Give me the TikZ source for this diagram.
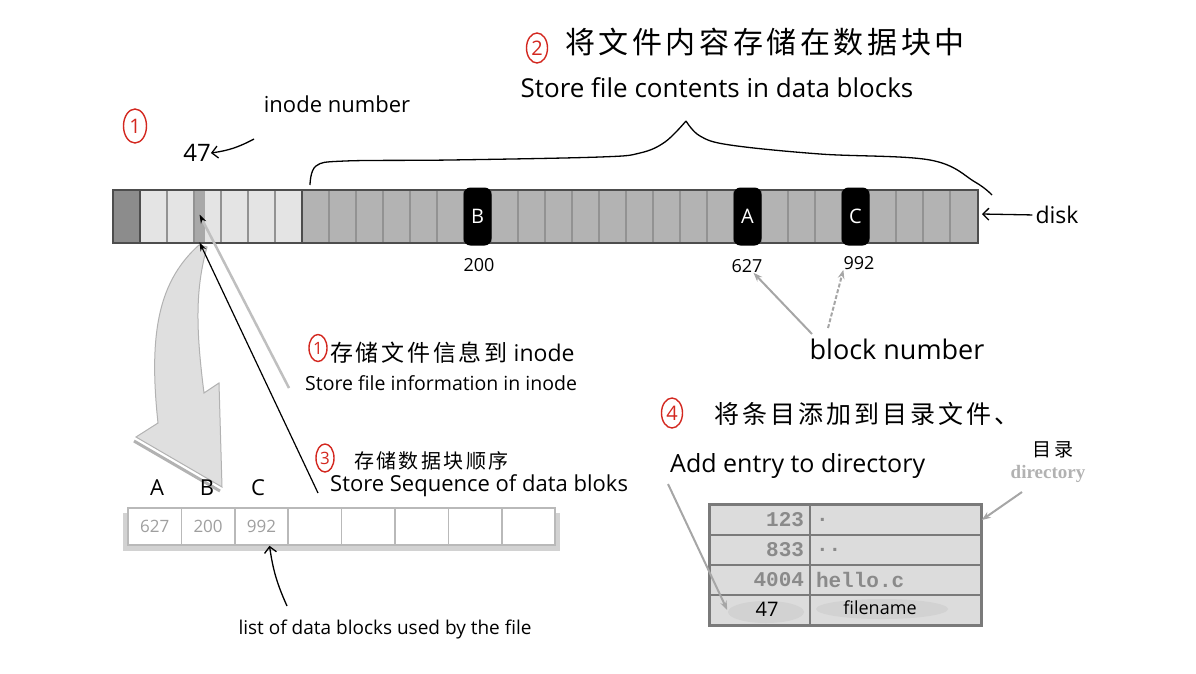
\documentclass[tikz,border=0pt]{standalone}
\usepackage{fontspec}
\setmainfont{Open Sans}
\setmonofont{Liberation Mono}
\newfontfamily\cjk[LetterSpace=12]{Noto Sans CJK SC}
\newfontfamily\dirfont{Liberation Serif}
\usetikzlibrary{shapes.geometric,arrows.meta}

\definecolor{diskedge}{HTML}{4D4D4D}
\definecolor{superblk}{HTML}{8C8C8C}
\definecolor{inodegray}{HTML}{E4E4E4}
\definecolor{datagray}{HTML}{B3B3B3}
\definecolor{divgray}{HTML}{929292}
\definecolor{stripgray}{HTML}{A8A8A8}
\definecolor{markred}{HTML}{D3271F}
\definecolor{dirfill}{HTML}{DCDCDC}
\definecolor{dirline}{HTML}{7A7A7A}
\definecolor{dirtext}{HTML}{8A8A8A}

\newcommand{\handsize}[1]{\fontsize{#1}{#1}\selectfont}

\begin{document}
\begin{tikzpicture}
  [x=1pt,y=-1pt,
   hand/.style={inner sep=0pt,font=\handsize{#1}},
   hand/.default=20,
   numcirc/.style={ellipse,draw=markred,text=markred,line width=1.4pt,
     inner sep=0pt,minimum width=21pt,minimum height=30pt,font=\handsize{20}},
   blkcell/.style={fill=black,rounded corners=7pt,minimum width=28pt,
     minimum height=58pt,text=white,font=\handsize{20}},
   listcell/.style={draw=gray!55,line width=1.5pt,fill=white,minimum width=53.4pt,
     minimum height=37pt,inner sep=0pt,text=gray!75,font=\handsize{17}},
   dirnum/.style={draw=dirline,line width=1.5pt,fill=dirfill,minimum height=30pt,
     inner ysep=0pt,text width=88pt,align=right,inner xsep=6pt,text=dirtext,
     font=\ttfamily\bfseries\handsize{21}},
   dirname/.style={dirnum,text width=159pt,align=left},
   pen/.style={line width=1.3pt,-{Straight Barb[length=6pt]}},
   grayarrow/.style={gray!70,line width=2pt,-{Stealth[length=9pt]}}]
  \useasboundingbox (0,0) rectangle (1196,673);

  % disk
  \fill[superblk] (113,190) rectangle (140,243);
  \fill[inodegray] (140,190) rectangle (302,243);
  \fill[datagray] (302,190) rectangle (978,243);
  \node (inode) at (199.5,216.5) [fill=stripgray,minimum width=11pt,minimum height=51pt,inner sep=0pt] {};
  \foreach \i in {1,...,31}
    \draw[divgray,line width=1.6pt] (113+27*\i,191) -- (113+27*\i,242);
  \draw[diskedge,line width=1.6pt] (140,190) -- (140,243) (302,190) -- (302,243);
  \draw[diskedge,line width=2.2pt] (113,190) rectangle (978,243);
  \node (B) at (477.5,216.5) [blkcell] {B};
  \node (A) at (747.5,216.5) [blkcell] {A};
  \node (C) at (855.5,216.5) [blkcell] {C};

  \node (n200) at (479,265) [hand=18] {200};
  \node (n627) at (747,266) [hand=18] {627};
  \node (n992) at (859,263) [hand=18] {992};
  \node (disk) at (1057,215) [hand=23] {disk};
  \coordinate (diskend) at (982,214);
  \draw[pen,shorten <=3pt] (disk.west) -- (diskend);

  % brace over the data blocks
  \draw[line width=1.3pt]
    plot[smooth,tension=0.6] coordinates {(310,185) (316,166) (345,161) (450,160) (600,157) (640,153) (665,142) (686,121)}
    plot[smooth,tension=0.6] coordinates {(686,121) (700,136) (730,145) (820,154) (930,160) (975,182) (992,195)};

  % step 2
  \node (two) at (537,48) [numcirc] {2};
  \node (title) at (765,42) [hand=30] {\cjk 将文件内容存储在数据块中};
  \node (contents) at (717,88) [hand=26] {Store file contents in data blocks};

  % step 1, inode number
  \node (one) at (135,126) [numcirc,minimum width=23pt,minimum height=34pt] {1};
  \node (inodenum) at (337,104) [hand=22] {inode number};
  \node (n47) at (197,153) [hand=24] {47};
  \coordinate (numptr) at (254,139);
  \draw[pen] (numptr) to[bend left=10] (n47.east);

  % big arrow from the inode to the block list
  \draw[gray!60,line width=3pt] (134,441) -- (220,491);
  \filldraw[fill=gray!25,draw=gray!60,line width=1pt]
    (199,245) .. controls (160,280) and (148,330) .. (158,423) -- (136,437)
    -- (222,487) -- (219,383) -- (204,393) .. controls (196,330) and (195,290) .. (207,247) -- cycle;

  % pointers into the inode
  \coordinate (infoptr) at (289,388);
  \coordinate (seqptr) at (318,493);
  \draw[gray!50,line width=2.5pt,-{Stealth[black,length=9pt,width=6pt]}] (infoptr) -- ([yshift=2pt]inode.center);
  \draw[line width=1.2pt,-{Stealth[length=9pt,width=6pt]}] (seqptr) -- (inode.south);

  \node (onebis) at (318,348) [numcirc,minimum width=18pt,minimum height=27pt,font=\handsize{17}] {1};
  \node (infocn) at (330,353) [hand=23,anchor=west] {{\cjk 存储文件信息到} inode};
  \node (info) at (305,383) [hand=19.5,anchor=west] {Store file information in inode};
  \node (three) at (325,458) [numcirc,minimum width=18pt,minimum height=28pt,font=\handsize{17}] {3};
  \node (seqcn) at (354,461) [hand=20,anchor=west] {\cjk 存储数据块顺序};
  \node (seq) at (330,486) [hand=22,anchor=west] {Store Sequence of data bloks};

  % list of data blocks
  \fill[gray!35] (123,513) rectangle (560,551);
  \foreach \v [count=\i from 0] in {627,200,992,{},{},{},{},{}}
    \node (cell\i) at (154.7+53.4*\i,526.5) [listcell] {\v};
  \node (lA) at (157,488) [hand=22] {A};
  \node (lB) at (207,488) [hand=22] {B};
  \node (lC) at (258,488) [hand=22] {C};
  \node (list) at (385,630) [hand=19] {list of data blocks used by the file};
  \coordinate (listptr) at (287,606);
  \draw[pen] (listptr) to[bend left=8] ([xshift=8pt]cell2.south);

  % block number
  \node (bnum) at (897,349) [hand=27] {block number};
  \coordinate (bptr1) at (812,334);
  \coordinate (bptr2) at (828,328);
  \draw[grayarrow] (bptr1) -- (n627);
  \draw[grayarrow,dash pattern=on 4pt off 2pt] (bptr2) -- (n992.south west);

  % step 4, directory
  \node (four) at (672,413) [numcirc] {4};
  \node (entrycn) at (714,414) [hand=25,anchor=west] {\cjk 将条目添加到目录文件、};
  \node (entry) at (670,466) [hand=25,anchor=west] {Add entry to directory};
  \node (dircn) at (1053,450) [hand=19] {\cjk 目录};
  \node (dirlbl) at (1048,474) [hand=19,text=gray!60,font=\dirfont\bfseries\handsize{19}] {directory};

  \foreach \ino/\fname [count=\r from 0] in {123/.,833/..,4004/hello.c,{}/{}}
  {
    \node (num\r) at (760,520+30*\r) [dirnum] {\ino};
    \node (name\r) at (895.5,520+30*\r) [dirname] {\fname};
  }
  \draw[dirline,line width=2.2pt] (num0.north west) rectangle (name3.south east);
  \fill[gray!35] (766,612) ellipse [x radius=38pt,y radius=11pt];
  \fill[gray!35] (882,609) ellipse [x radius=66pt,y radius=10pt];
  \node (fn47) at (767,609) [hand=20] {47};
  \node (fname) at (880,608) [hand=18] {filename};

  \coordinate (entryptr) at (668,484);
  \coordinate (dirptr) at (1022,492);
  \draw[grayarrow] (entryptr) -- ([xshift=18pt]num3.west);
  \draw[grayarrow] (dirptr) -- (name0.east);
\end{tikzpicture}
\end{document}
